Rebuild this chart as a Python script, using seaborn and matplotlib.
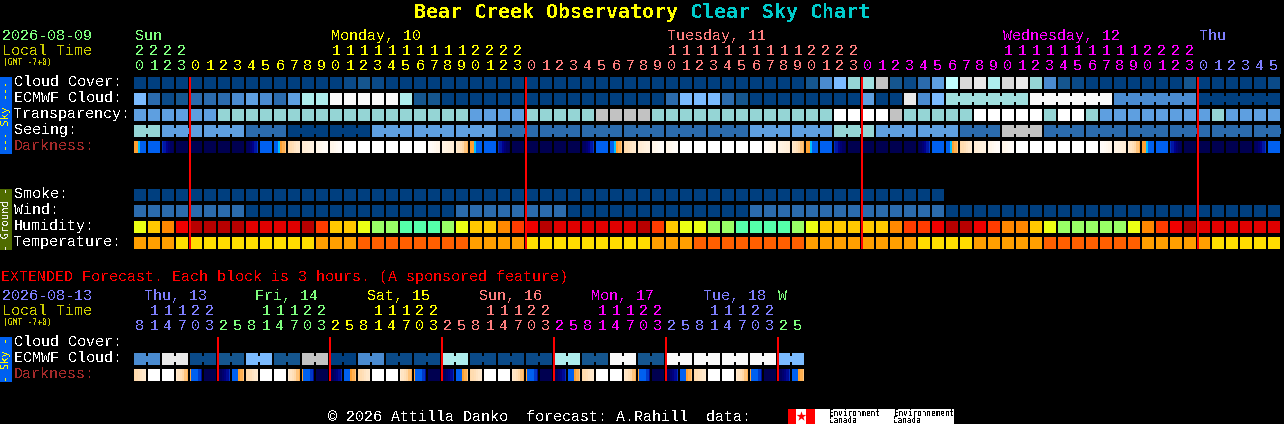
import matplotlib
matplotlib.use('Agg')
import matplotlib.pyplot as plt
from matplotlib.colors import ListedColormap, LinearSegmentedColormap
from matplotlib.patches import Rectangle
import seaborn as sns
import pandas as pd

W, H = 1284, 424
PITCH = 14
GAP = 2 * 72 / 100  # 2 pixels in points

# block colours, one letter per cell in the rows below
palette = {
    'z': '#000000',
    'a': '#003F7F', 'b': '#0A4A88', 'c': '#15568F', 'd': '#2B6BAD', 'e': '#4A8BD0',
    'f': '#5E9FE0', 'g': '#7BBBFF', 'h': '#95D5D5', 'i': '#A0DFDF', 'j': '#AEEDED',
    'k': '#BFFFFF', 'l': '#C2C2C2', 'm': '#D9D9D9', 'n': '#E9E9E9', 'o': '#F9F9F9',
    'p': '#FFFFFF',
    'A': '#B80000', 'B': '#E00000', 'C': '#F00000', 'D': '#FF3C00', 'E': '#FF8800',
    'F': '#FFC800', 'G': '#EBFF14', 'H': '#99FF66', 'I': '#55FFAA',
    'J': '#FF5F00', 'K': '#FF9F00', 'L': '#FFDD00',
}

cloud_cover = ('aaaaaaaaaa' 'aaaaabcbaa' 'aaaaaaaaaa' 'aaaaaaaaaa' 'aaaaaaaace'
               'ghilcbdfkm' 'njmnhecbaa' 'aaaaacaaaa' 'ab')
ecmwf_cloud = ('gdbcdddefe' 'dfjjoooooj' 'ccaaaaaaaa' 'aaaaaaaadg' 'ggdcaaaaaa'
               'aafaanegii' 'iiiioooooo' 'eeeeeeaaaa' 'aa')
transparency = ('ffffffhhhh' 'hhhhhhhhhh' 'hhhhffffhh' 'hhhllllhhh' 'hhhhhhhhhh'
                'pppplhhhhh' 'ppppphpphf' 'fffffffhff' 'ff')
seeing = ('hhffffffdd' 'daaaaaafff' 'ffffffdddd' 'dddddddddd' 'ddddffffff'
          'hhhffffffd' 'ddlllddddd' 'dddddddddd' 'dd')
smoke = ('aaaaaaaaaa' 'aaaaaaaaaa' 'aaaaaaaaaa' 'aaaaaaaaaa' 'aaaaaaaaaa'
         'aaaaaaaazz' 'zzzzzzzzzz' 'zzzzzzzzzz' 'zz')
wind = ('ddddddddaa' 'aaaaaaaaaa' 'aaaddddddd' 'daaaaaaaaa' 'aaaadddddd'
        'ddddddddaa' 'aaaaaaaaaa' 'aaaaaaaaaa' 'aa')
humidity = ('GFECAAAABB' 'BBADFFGHHI' 'IIHGFFEDCA' 'BBBBBBADFG' 'GHHIIIIHGF'
            'FFFFEDDCAA' 'CDEEFGHHHH' 'HGEDCABBBB' 'BB')
temperature = ('KKKLLLLLLL' 'LLLKKKJJJJ' 'JJJJKKKKLL' 'LLLLLLLKKK' 'JJJJJJJJKK'
               'KKKKKKLLLL' 'KKKKKJJJJJ' 'JJKKKKKLLL' 'LL')
ext_ecmwf = 'eennbbccgg' 'ccllaaeebb' 'bbjjbbbbbb' 'jjccooccoo' 'oooooogg'

# where a run of cells is one forecast block (first cell of each run, run length)
seeing_runs = [(0, 2)] + [(i, 3) for i in range(2, 82, 3)]
ecmwf_runs = [(58, 6), (64, 6), (70, 6), (76, 6)]
ext_runs = [(i, 2) for i in range(0, 48, 2)]

# darkness: six readings across each block, 0 night .. 1 full daylight
dark_kinds = {
    'N': [0, 0, 0, 0, 0, 0],
    'F': [.2, .15, .1, .06, .03, .01],
    'D': [.01, .03, .06, .1, .15, .22],
    'B': [.3, .3, .3, .3, .3, .3],
    'S': [.46, .46, .37, .3, .3, .3],
    'R': [.3, .3, .37, .46, .5, .56],
    'P1': [.6, .63, .66, .7, .73, .76],
    'P2': [.76, .78, .8, .82, .84, .86],
    'P3': [.88, .9, .92, .94, .96, .98],
    'W': [1, 1, 1, 1, 1, 1],
    'Q3': [.98, .96, .94, .92, .9, .88],
    'Q2': [.88, .86, .84, .82, .8, .76],
    'Q1': [.76, .7, .66, .6, .55, .5],
    's': [.46, .3, .3, .3, .22, .12],
    'd': [0, .02, .05, .08, .12, .2],
    'r': [.3, .3, .3, .46, .5, .56],
}
darkness = ('S B F N N N N N D B R P1 P2 P3 P3 W W W W W W Q3 Q2 Q1 '
            'S B F N N N N N D B R P1 P2 P3 P3 W W W W W W Q3 Q2 Q1 '
            'S B F N N N N N D B R P1 P2 P3 P3 W W W W W W Q3 Q2 Q1 '
            'S B F N N N N N D B').split()
ext_darkness = ('P1 W W Q1 s N d r ' 'P1 W W Q1 s N d r ' 'P1 W W Q1 s N d r '
                'P1 W W Q1 s N d r ' 'P1 W W Q1 s N d r ' 'P1 W W Q1 s N d r').split()
dark_stops = [(0, '#000050'), (.1, '#00008C'), (.2, '#0030C0'), (.3, '#0060F0'),
              (.37, '#00C0FF'), (.42, '#FFA030'), (.46, '#FFA030'), (.5, '#FFB050'),
              (.6, '#FFD8A8'), (.75, '#FFEAD0'), (.9, '#FFF6EA'), (1, '#FFFFFF')]

# time axes
hours = [20, 21, 22, 23] + list(range(24)) * 3 + [0, 1, 2, 3, 4, 5]
day_starts = [0, 4, 28, 52, 76]
day_colors = ['#7FFF7F', '#FFFF00', '#FF7F7F', '#FF00FF', '#7F7FFF']
day_titles = [('Sun', 0), ('Monday, 10', 1), ('Tuesday, 11', 2), ('Wednesday, 12', 3), ('Thu', 4)]
title_cells = [0, 14, 38, 62, 76]
midnights = [4, 28, 52, 76]

ext_hours = [8, 11, 14, 17, 20, 23] + [2, 5, 8, 11, 14, 17, 20, 23] * 5 + [2, 5]
ext_day_starts = [0, 6, 14, 22, 30, 38, 46]
ext_day_colors = ['#7F7FFF', '#7FFF7F', '#FFFF00', '#FF7F7F', '#FF00FF', '#7F7FFF', '#7FFF7F']
ext_titles = ['Thu, 13', 'Fri, 14', 'Sat, 15', 'Sun, 16', 'Mon, 17', 'Tue, 18', 'W']
ext_title_x = [144, 255, 367, 479, 591, 703, 778]
ext_midnights = [6, 14, 22, 30, 38, 46]

sky_labels = ['Cloud Cover:', 'ECMWF Cloud:', 'Transparency:', 'Seeing:', 'Darkness:']
ground_labels = ['Smoke:', 'Wind:', 'Humidity:', 'Temperature:']
ext_labels = ['Cloud Cover:', 'ECMWF Cloud:', 'Darkness:']

sns.set_theme(style='dark', rc={'figure.facecolor': 'black', 'axes.facecolor': 'black'})
plt.rcParams['font.family'] = ['Liberation Mono', 'DejaVu Sans Mono']
plt.rcParams['text.antialiased'] = False

fig = plt.figure(figsize=(W / 100, H / 100), dpi=100, facecolor='black')


def place_axes(x, y, w, h, zorder=1):
    return fig.add_axes([x / W, 1 - (y + h) / H, w / W, h / H], zorder=zorder)


def add_breaks(ax, n, per_cell, runs):
    """black gaps between blocks, notches inside a joined run"""
    joined = set()
    for start, length in runs:
        joined.update(range(start + 1, start + length))
    for k in range(n + 1):
        x = k * per_cell
        if k in joined:
            ax.vlines(x, 0, 0.25, color='black', lw=GAP)
            ax.vlines(x, 0.75, 1, color='black', lw=GAP)
        else:
            ax.vlines(x, 0, 1, color='black', lw=GAP)
    ax.axis('off')


def draw_row(y, values, runs=()):
    keys = list(palette)
    codes = pd.DataFrame([[keys.index(c) for c in values]])
    ax = place_axes(133, y, PITCH * len(values), 12)
    sns.heatmap(codes, ax=ax, cmap=ListedColormap(list(palette.values())), vmin=-0.5,
                vmax=len(keys) - 0.5, cbar=False, xticklabels=False, yticklabels=False)
    add_breaks(ax, len(values), 1, runs)


def draw_darkness(y, kinds):
    readings = pd.DataFrame([[v for kind in kinds for v in dark_kinds[kind]]])
    ax = place_axes(133, y, PITCH * len(kinds), 12)
    cmap = LinearSegmentedColormap.from_list('dark', dark_stops, N=512)
    sns.heatmap(readings, ax=ax, cmap=cmap, vmin=0, vmax=1, cbar=False,
                xticklabels=False, yticklabels=False)
    add_breaks(ax, len(kinds), 6, ())


def draw_midnights(y, h, n, cells):
    ax = place_axes(134, y, PITCH * n, h, zorder=3)
    ax.set_xlim(0, n)
    ax.set_ylim(1, 0)
    ax.vlines(cells, 0, 1, color='#FF0000', lw=GAP)
    ax.patch.set_alpha(0)
    ax.axis('off')


# main forecast
draw_row(77, cloud_cover)
draw_row(93, ecmwf_cloud, ecmwf_runs)
draw_row(109, transparency)
draw_row(125, seeing, seeing_runs)
draw_darkness(141, darkness)
draw_row(189, smoke)
draw_row(205, wind)
draw_row(221, humidity)
draw_row(237, temperature)
draw_midnights(77, 172, len(hours), midnights)

# extended forecast
draw_row(353, ext_ecmwf, ext_runs)
draw_darkness(369, ext_darkness)
draw_midnights(337, 44, len(ext_hours), ext_midnights)

# everything else is drawn on one page-sized axes in pixel units
page = place_axes(0, 0, W, H, zorder=2)
page.set_xlim(0, W)
page.set_ylim(H, 0)
page.patch.set_alpha(0)
page.axis('off')


def txt(x, y, s, color='white', size=10.8, **kw):
    page.text(x, y, s, color=color, fontsize=size, va='baseline', **kw)


def day_color(i, starts, colors):
    return [c for s, c in zip(starts, colors) if s <= i][-1]


def hour_digits(values, starts, colors, tens_y, units_y):
    for i, h in enumerate(values):
        c = day_color(i, starts, colors)
        x = 140 + PITCH * i
        if h >= 10:
            txt(x, tens_y, str(h // 10), c, ha='center')
        txt(x, units_y, str(h % 10), c, ha='center')


title_font = ['DejaVu Sans Mono']
txt(414, 18, 'Bear Creek Observatory', '#FFFF00', 14.35, fontweight='bold', family=title_font)
txt(690, 18, 'Clear Sky Chart', '#00CCCC', 14.35, fontweight='bold', family=title_font)

txt(2, 40, '2026-08-09', '#7FFF7F')
txt(2, 55, 'Local Time', '#CCCC00')
txt(3, 64.5, '(GMT -7+0)', '#CCCC00', 5.76, family=title_font)
for (name, c_idx), cell in zip(day_titles, title_cells):
    txt(135 + PITCH * cell, 40, name, day_colors[c_idx])
hour_digits(hours, day_starts, day_colors, 55, 70)

txt(1, 281, 'EXTENDED Forecast. Each block is 3 hours. (A sponsored feature)', '#FF0000')
txt(2, 300, '2026-08-13', '#7F7FFF')
txt(2, 315, 'Local Time', '#CCCC00')
txt(3, 324.5, '(GMT -7+0)', '#CCCC00', 5.76, family=title_font)
for name, x, c in zip(ext_titles, ext_title_x, ext_day_colors):
    txt(x, 300, name, c)
hour_digits(ext_hours, ext_day_starts, ext_day_colors, 315, 330)

for base, labels in [(86, sky_labels), (198, ground_labels), (346, ext_labels)]:
    for j, label in enumerate(labels):
        txt(14, base + 16 * j, label, '#A52A2A' if label == 'Darkness:' else 'white')

# side bands
for y0, y1, col, s, tc in [(77, 154, '#0060F0', '--- Sky ---', '#FFFF00'),
                           (189, 250, '#4F6B00', '- Ground -', '#F0F0F0'),
                           (337, 382, '#0060F0', '- Sky -', '#FFFF00')]:
    page.add_patch(Rectangle((0, y0), 12, y1 - y0, color=col, lw=0))
    page.text(6, (y0 + y1) / 2, s, color=tc, fontsize=7.6, rotation=90, ha='center',
              va='center', family=title_font)

# footer and logo
txt(328, 421, '© 2026 Attilla Danko  forecast: A.Rahill  data:')
page.add_patch(Rectangle((788, 409), 166, 15, color='white', lw=0))
page.add_patch(Rectangle((788, 409), 8, 15, color='#FF0000', lw=0))
page.add_patch(Rectangle((806, 409), 9, 15, color='#FF0000', lw=0))
page.scatter([801], [416], marker='*', s=55, color='#FF0000', linewidths=0)
for x, top, bottom in [(829, 'Environment', 'Canada'), (894, 'Environnement', 'Canada')]:
    txt(x, 415.5, top, 'black', 5.5, family=title_font)
    txt(x, 423, bottom, 'black', 5.5, family=title_font)

fig.savefig('out.png', dpi=100, facecolor='black')
